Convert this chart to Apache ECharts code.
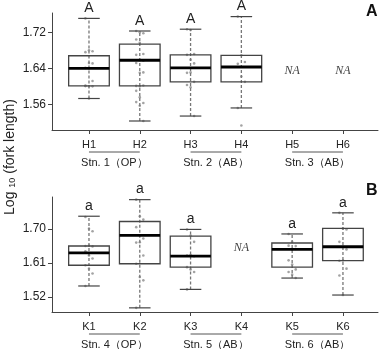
<!DOCTYPE html>
<html><head><meta charset="utf-8">
<script src="https://cdn.jsdelivr.net/npm/echarts@6/dist/echarts.min.js"></script>
<style>html,body{margin:0;padding:0;background:#fff}#c{width:380px;height:349px}</style>
</head><body><div id="c"></div>
<script>
// ---- data ----
const catsA = ['H1','H2','H3','H4','H5','H6'];
const catsB = ['K1','K2','K3','K4','K5','K6'];
const stationsA = ['Stn. 1（OP）','Stn. 2（AB）','Stn. 3（AB）'];
const stationsB = ['Stn. 4（OP）','Stn. 5（AB）','Stn. 6（AB）'];
const stationSpans = [[1,2],[3,4],[5,6]];
const ticksA = [1.56, 1.64, 1.72];
const ticksB = [1.52, 1.61, 1.70];
// [lower whisker, Q1, median, Q3, upper whisker]; null = NA
const boxA = [
  [1.573, 1.601, 1.640, 1.668, 1.751],
  [1.523, 1.601, 1.658, 1.694, 1.723],
  [1.534, 1.610, 1.641, 1.670, 1.727],
  [1.552, 1.610, 1.643, 1.669, 1.755],
  null, null
];
const boxB = [
  [1.549, 1.604, 1.637, 1.655, 1.734],
  [1.491, 1.608, 1.683, 1.720, 1.778],
  [1.540, 1.599, 1.628, 1.681, 1.699],
  null,
  [1.570, 1.599, 1.646, 1.663, 1.687],
  [1.525, 1.616, 1.653, 1.702, 1.743]
];
const lettersA = ['A','A','A','A','',''];
const lettersB = ['a','a','a','','a','a'];
const dotsA = [
  [1.751,1.680,1.678,1.676,1.652,1.651,1.641,1.640,1.612,1.601,1.600,1.600,1.601,1.573],
  [1.723,1.720,1.718,1.704,1.697,1.672,1.670,1.658,1.657,1.652,1.630,1.631,1.601,1.600,1.602,1.590,1.576,1.563,1.565,1.557,1.523],
  [1.727,1.725,1.672,1.670,1.659,1.651,1.630,1.631,1.610,1.603,1.598,1.534],
  [1.755,1.669,1.654,1.650,1.622,1.610,1.552,1.513],
  [], []
];
const dotsB = [
  [1.732,1.701,1.694,1.655,1.656,1.654,1.641,1.630,1.622,1.604,1.595,1.582,1.549],
  [1.778,1.734,1.725,1.705,1.683,1.675,1.664,1.665,1.630,1.608,1.573,1.564,1.491],
  [1.699,1.683,1.666,1.630,1.631,1.628,1.599,1.593,1.586,1.540],
  [],
  [1.687,1.666,1.655,1.656,1.646,1.647,1.617,1.606,1.593,1.586,1.579,1.570],
  [1.743,1.701,1.699,1.666,1.653,1.646,1.616,1.617,1.595,1.577,1.525]
];
const naLevelA = 1.635;
const naLevelB = 1.65;
const yRangeA = [1.503, 1.763];
const yRangeB = [1.480, 1.785];
const xRange = [0.272, 6.69];

// ---- build ----
const FONT = '"Liberation Sans", Arial, sans-serif';
function boxData(boxes){ const out=[]; boxes.forEach((b,i)=>{ if(b) out.push([i+1].concat(b)); }); return out; }
function naData(boxes, level){ const out=[]; boxes.forEach((b,i)=>{ if(!b) out.push([i+1, level]); }); return out; }
function dotData(dots){ const out=[]; dots.forEach((g,i)=>g.forEach((v,j)=>out.push([i+1+((j%3)-1)*0.07, v]))); return out; }

function boxRenderer(letters){
  return function(params, api){
    const x = api.value(0);
    const pLo = api.coord([x, api.value(1)]);
    const pQ1 = api.coord([x, api.value(2)]);
    const pMed = api.coord([x, api.value(3)]);
    const pQ3 = api.coord([x, api.value(4)]);
    const pHi = api.coord([x, api.value(5)]);
    const hw = api.coord([x+0.4, api.value(1)])[0] - pLo[0];
    const cw = hw*0.53;
    const cx = pLo[0];
    return {type:'group', children:[
      {type:'line', shape:{x1:cx,y1:pLo[1],x2:cx,y2:pHi[1]}, style:{stroke:'#777',lineWidth:1.3,lineDash:[3,2]}},
      {type:'rect', shape:{x:cx-hw,y:pQ3[1],width:2*hw,height:pQ1[1]-pQ3[1]}, style:{stroke:'#444',fill:'none',lineWidth:1.3}},
      {type:'line', shape:{x1:cx-hw,y1:pMed[1],x2:cx+hw,y2:pMed[1]}, style:{stroke:'#000',lineWidth:2.8}},
      {type:'line', shape:{x1:cx-cw,y1:pLo[1],x2:cx+cw,y2:pLo[1]}, style:{stroke:'#444',lineWidth:1.2}},
      {type:'line', shape:{x1:cx-cw,y1:pHi[1],x2:cx+cw,y2:pHi[1]}, style:{stroke:'#444',lineWidth:1.2}},
      {type:'text', style:{x:cx,y:pHi[1]-10,text:letters[x-1],align:'center',verticalAlign:'middle',fontSize:14,fontFamily:FONT,fill:'#222'}}
    ]};
  };
}
function naRenderer(params, api){
  const p = api.coord([api.value(0), api.value(1)]);
  return {type:'text', style:{x:p[0],y:p[1],text:'NA',align:'center',verticalAlign:'middle',fontSize:12,fontStyle:'italic',fontFamily:'"Liberation Serif", "DejaVu Serif", serif',fill:'#444'}};
}
function stationRenderer(names, ymin){
  return function(params, api){
    const p1 = api.coord([api.value(0), ymin]);
    const p2 = api.coord([api.value(1), ymin]);
    return {type:'group', children:[
      {type:'line', shape:{x1:p1[0],y1:p1[1]+22,x2:p2[0],y2:p1[1]+22}, style:{stroke:'#555',lineWidth:1}},
      {type:'text', style:{x:(p1[0]+p2[0])/2,y:p1[1]+33,text:names[params.dataIndex],align:'center',verticalAlign:'middle',fontSize:11,fontFamily:FONT,fill:'#222'}}
    ]};
  };
}
function xAxisCfg(idx, cats){
  return {type:'value', gridIndex:idx, min:xRange[0], max:xRange[1],
    axisLine:{show:true,onZero:false,lineStyle:{color:'#444',width:1}},
    axisTick:{show:true,length:4,customValues:[1,2,3,4,5,6],lineStyle:{color:'#444'}},
    axisLabel:{customValues:[1,2,3,4,5,6],formatter:v=>cats[Math.round(v)-1],fontSize:11,fontFamily:FONT,color:'#222',margin:9},
    splitLine:{show:false}};
}
function yAxisCfg(idx, range, ticks){
  return {type:'value', gridIndex:idx, min:range[0], max:range[1],
    axisLine:{show:true,lineStyle:{color:'#444',width:1}},
    axisTick:{show:true,length:4,customValues:ticks,lineStyle:{color:'#444'}},
    axisLabel:{customValues:ticks,formatter:v=>v.toFixed(2),fontSize:12,fontFamily:FONT,color:'#222',margin:6},
    splitLine:{show:false}};
}

const chart = echarts.init(document.getElementById('c'));
chart.setOption({
  animation:false,
  backgroundColor:'#fff',
  grid:[
    {left:52, top:13, width:326, height:117},
    {left:52, top:197, width:326, height:115}
  ],
  xAxis:[xAxisCfg(0, catsA), xAxisCfg(1, catsB)],
  yAxis:[yAxisCfg(0, yRangeA, ticksA), yAxisCfg(1, yRangeB, ticksB)],
  graphic:[
    {type:'text', left:366, top:4, style:{text:'A',fontSize:16,fontWeight:'bold',fontFamily:FONT,fill:'#111'}},
    {type:'text', left:366, top:183, style:{text:'B',fontSize:16,fontWeight:'bold',fontFamily:FONT,fill:'#111'}},
    {type:'text', x:10, y:157, rotation:Math.PI/2,
      style:{text:'{a|Log }{s|10}{a| (fork length)}', align:'center', verticalAlign:'middle',
        rich:{a:{fontSize:14,fontFamily:FONT,fill:'#222'}, s:{fontSize:9,fontFamily:FONT,fill:'#222',verticalAlign:'bottom',padding:[4,0,0,0]}}}}
  ],
  series:[
    {type:'scatter', xAxisIndex:0, yAxisIndex:0, data:dotData(dotsA), symbolSize:2.6, itemStyle:{color:'#8c8c8c'}, z:3},
    {type:'scatter', xAxisIndex:1, yAxisIndex:1, data:dotData(dotsB), symbolSize:2.6, itemStyle:{color:'#8c8c8c'}, z:3},
    {type:'custom', xAxisIndex:0, yAxisIndex:0, data:boxData(boxA), renderItem:boxRenderer(lettersA), z:4},
    {type:'custom', xAxisIndex:1, yAxisIndex:1, data:boxData(boxB), renderItem:boxRenderer(lettersB), z:4},
    {type:'custom', xAxisIndex:0, yAxisIndex:0, data:naData(boxA, naLevelA), renderItem:naRenderer},
    {type:'custom', xAxisIndex:1, yAxisIndex:1, data:naData(boxB, naLevelB), renderItem:naRenderer},
    {type:'custom', xAxisIndex:0, yAxisIndex:0, data:stationSpans, renderItem:stationRenderer(stationsA, yRangeA[0]), clip:false},
    {type:'custom', xAxisIndex:1, yAxisIndex:1, data:stationSpans, renderItem:stationRenderer(stationsB, yRangeB[0]), clip:false}
  ]
});
</script></body></html>
